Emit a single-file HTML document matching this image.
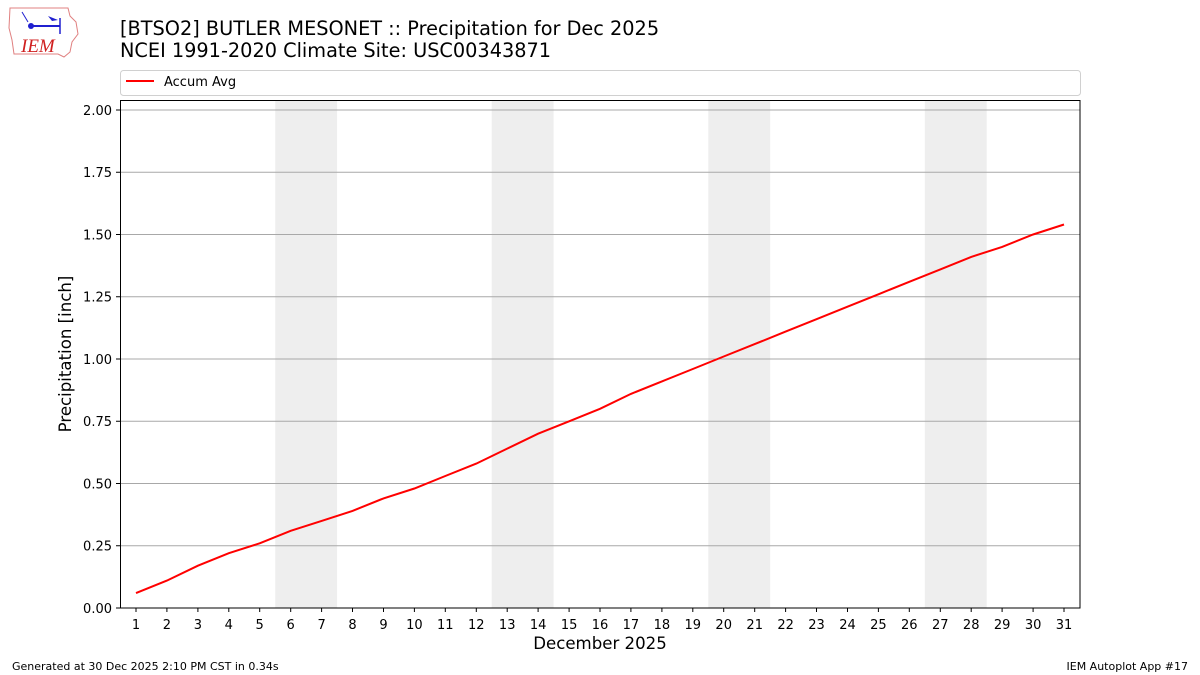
<!DOCTYPE html>
<html><head><meta charset="utf-8"><style>body{margin:0;background:#fff}svg{display:block}</style></head>
<body>
<svg width="1200" height="675" xmlns="http://www.w3.org/2000/svg" font-family="DejaVu Sans, Liberation Sans, sans-serif">
<rect width="1200" height="675" fill="#fff"/>
<path d="M10,8 L68,8 L70,16 L76,22 L78,34 L72,42 L70,52 L64,57 L58,54 L14,54 L12,40 L9,28 Z" fill="none" stroke="#e08080" stroke-width="1"/>
<line x1="30" y1="26" x2="60" y2="26" stroke="#2020d0" stroke-width="2"/>
<circle cx="31" cy="26" r="3" fill="#2020d0"/>
<path d="M48,16 L58,20 L52,21 Z" fill="#2020d0"/>
<line x1="60" y1="18" x2="60" y2="34" stroke="#2020d0" stroke-width="1.5"/>
<line x1="22" y1="12" x2="28" y2="22" stroke="#2020d0" stroke-width="1"/>
<text x="21" y="52" font-family="Liberation Serif, serif" font-style="italic" font-size="19" fill="#d02020">IEM</text>
<text x="120" y="35" font-size="19.3" fill="#000">[BTSO2] BUTLER MESONET :: Precipitation for Dec 2025</text>
<text x="120" y="57" font-size="19.3" fill="#000">NCEI 1991-2020 Climate Site: USC00343871</text>
<rect x="120.5" y="70.5" width="960" height="25" rx="3" fill="#fff" stroke="#d0d0d0"/>
<line x1="126" y1="81" x2="154" y2="81" stroke="red" stroke-width="2"/>
<text x="164" y="86" font-size="13">Accum Avg</text>
<g fill="#eeeeee">
<rect x="275.2" y="100" width="61.9" height="508"/>
<rect x="491.7" y="100" width="61.9" height="508"/>
<rect x="708.3" y="100" width="61.9" height="508"/>
<rect x="924.8" y="100" width="61.9" height="508"/>
</g>
<g stroke="#a8a8a8" stroke-width="0.9">
<line x1="120" x2="1080" y1="545.75" y2="545.75"/>
<line x1="120" x2="1080" y1="483.5" y2="483.5"/>
<line x1="120" x2="1080" y1="421.25" y2="421.25"/>
<line x1="120" x2="1080" y1="359" y2="359"/>
<line x1="120" x2="1080" y1="296.75" y2="296.75"/>
<line x1="120" x2="1080" y1="234.5" y2="234.5"/>
<line x1="120" x2="1080" y1="172.25" y2="172.25"/>
<line x1="120" x2="1080" y1="110" y2="110"/>
</g>
<polyline fill="none" stroke="red" stroke-width="2" points="136,593.1 166.9,580.6 197.9,565.7 228.8,553.2 259.7,543.3 290.7,530.8 321.6,520.9 352.5,510.9 383.5,498.4 414.4,488.5 445.3,476 476.3,463.6 507.2,448.6 538.1,433.7 569.1,421.3 600,408.8 630.9,393.9 661.9,381.4 692.8,369 723.7,356.5 754.7,344.1 785.6,331.6 816.5,319.2 847.5,306.7 878.4,294.3 909.3,281.8 940.3,269.4 971.2,256.9 1002.1,246.9 1033.1,234.5 1064,224.5"/>
<rect x="120.5" y="100.5" width="959.5" height="507.5" fill="none" stroke="#000" stroke-width="1"/>
<g stroke="#000">
<line x1="116" x2="120" y1="608" y2="608"/><line x1="116" x2="120" y1="545.75" y2="545.75"/><line x1="116" x2="120" y1="483.5" y2="483.5"/><line x1="116" x2="120" y1="421.25" y2="421.25"/><line x1="116" x2="120" y1="359" y2="359"/><line x1="116" x2="120" y1="296.75" y2="296.75"/><line x1="116" x2="120" y1="234.5" y2="234.5"/><line x1="116" x2="120" y1="172.25" y2="172.25"/><line x1="116" x2="120" y1="110" y2="110"/>
</g>
<g font-size="13" text-anchor="end">
<text x="112" y="613">0.00</text><text x="112" y="550.5">0.25</text><text x="112" y="488.5">0.50</text><text x="112" y="426">0.75</text><text x="112" y="364">1.00</text><text x="112" y="301.5">1.25</text><text x="112" y="239.5">1.50</text><text x="112" y="177">1.75</text><text x="112" y="115">2.00</text>
</g>
<text transform="translate(71,354) rotate(-90)" font-size="16.6" text-anchor="middle">Precipitation [inch]</text>
<g font-size="13" text-anchor="middle">
<text x="136" y="629">1</text><text x="166.9" y="629">2</text><text x="197.9" y="629">3</text><text x="228.8" y="629">4</text><text x="259.7" y="629">5</text><text x="290.7" y="629">6</text><text x="321.6" y="629">7</text><text x="352.5" y="629">8</text><text x="383.5" y="629">9</text><text x="414.4" y="629">10</text><text x="445.3" y="629">11</text><text x="476.3" y="629">12</text><text x="507.2" y="629">13</text><text x="538.1" y="629">14</text><text x="569.1" y="629">15</text><text x="600" y="629">16</text><text x="630.9" y="629">17</text><text x="661.9" y="629">18</text><text x="692.8" y="629">19</text><text x="723.7" y="629">20</text><text x="754.7" y="629">21</text><text x="785.6" y="629">22</text><text x="816.5" y="629">23</text><text x="847.5" y="629">24</text><text x="878.4" y="629">25</text><text x="909.3" y="629">26</text><text x="940.3" y="629">27</text><text x="971.2" y="629">28</text><text x="1002.1" y="629">29</text><text x="1033.1" y="629">30</text><text x="1064" y="629">31</text>
</g>
<g stroke="#000">
<path d="M136,608v4M166.9,608v4M197.9,608v4M228.8,608v4M259.7,608v4M290.7,608v4M321.6,608v4M352.5,608v4M383.5,608v4M414.4,608v4M445.3,608v4M476.3,608v4M507.2,608v4M538.1,608v4M569.1,608v4M600,608v4M630.9,608v4M661.9,608v4M692.8,608v4M723.7,608v4M754.7,608v4M785.6,608v4M816.5,608v4M847.5,608v4M878.4,608v4M909.3,608v4M940.3,608v4M971.2,608v4M1002.1,608v4M1033.1,608v4M1064,608v4"/>
</g>
<text x="600" y="649" font-size="16.6" text-anchor="middle">December 2025</text>
<text x="12" y="670" font-size="11">Generated at 30 Dec 2025 2:10 PM CST in 0.34s</text>
<text x="1188" y="670" font-size="11" text-anchor="end">IEM Autoplot App #17</text>
</svg>
</body></html>
